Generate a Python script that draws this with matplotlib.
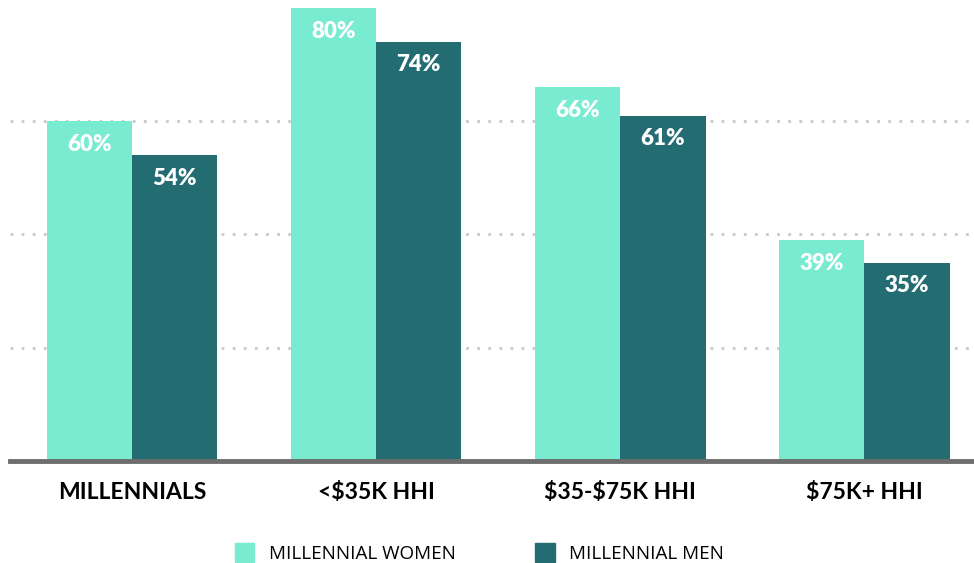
import numpy as np
import matplotlib.pyplot as plt
from matplotlib.patches import Patch

categories = ['MILLENNIALS', '<\\$35K HHI', '\\$35-\\$75K HHI', '\\$75K+ HHI']
women = [60, 80, 66, 39]
men = [54, 74, 61, 35]
series_names = ['MILLENNIAL WOMEN', 'MILLENNIAL MEN']

c_women = '#78ebd1'
c_men = '#236c71'

fig = plt.figure(figsize=(9.74, 5.63), dpi=100)
ax = fig.add_axes([10/974, 102/563, 964/974, 453/563])

x = np.arange(len(categories))
w = 0.35
b1 = ax.bar(x - w/2, women, w, color=c_women, zorder=2)
b2 = ax.bar(x + w/2, men, w, color=c_men, zorder=2)

for bars, vals in [(b1, women), (b2, men)]:
    for r, v in zip(bars, vals):
        ax.annotate(f'{v}%', (r.get_x() + r.get_width()/2, v),
                    xytext=(0, -23), textcoords='offset pixels',
                    ha='center', va='center', color='white',
                    fontsize=16, fontweight='heavy', family='Lato')

ax.set_xlim(-0.5, 3.45)
ax.set_ylim(0, 80)
for gy in [20, 40, 60]:
    ax.axhline(gy, color='#c8c8c8', lw=2, ls=(0, (1, 3)), zorder=1)

for s in ['top', 'right', 'left']:
    ax.spines[s].set_visible(False)
ax.spines['bottom'].set_color('#6e6e6e')
ax.spines['bottom'].set_linewidth(3.5)
ax.spines['bottom'].set_zorder(3)
ax.set_yticks([])
ax.set_xticks(x)
ax.set_xticklabels(categories, fontsize=16.5, fontweight='bold', family='Lato')
ax.tick_params(axis='x', length=0, pad=15)

handles = [Patch(color=c_women), Patch(color=c_men)]
fig.legend(handles, series_names, loc='lower center', bbox_to_anchor=(0.492, -0.03),
           ncol=2, frameon=False, handlelength=1.05, handleheight=1.1,
           handletextpad=0.75, columnspacing=4.2,
           prop={'family': 'Open Sans', 'size': 13.6})

fig.savefig('out.png', dpi=100)
